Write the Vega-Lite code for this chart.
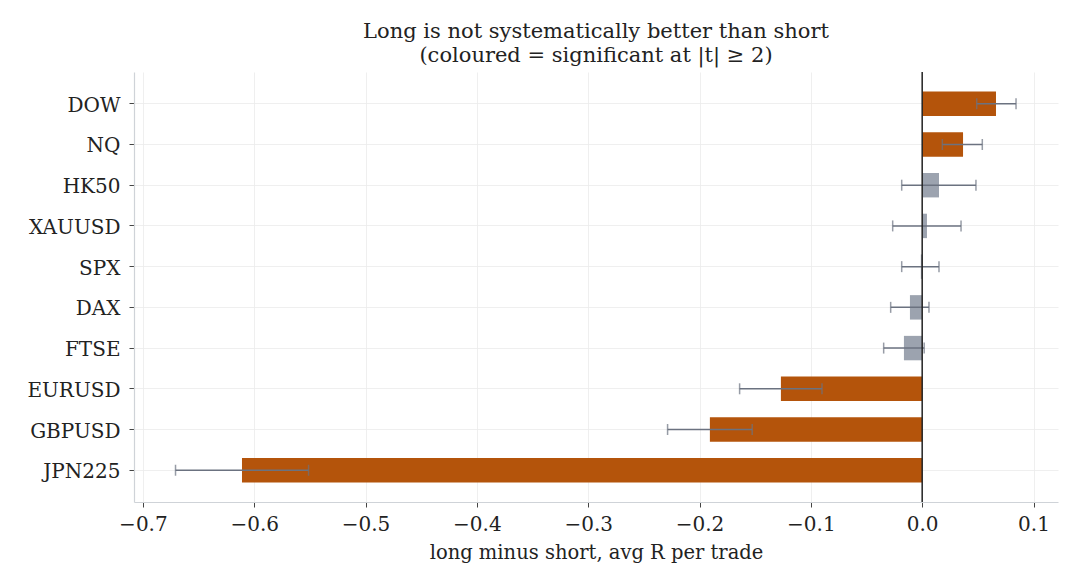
{
  "$schema": "https://vega.github.io/schema/vega-lite/v6.json",
  "width": 924,
  "height": 430,
  "autosize": "none",
  "padding": {"left": 134, "top": 72, "right": 22, "bottom": 83},
  "background": "white",
  "config": {
    "font": "DejaVu Serif",
    "view": {"stroke": null},
    "axis": {
      "labelFont": "DejaVu Serif",
      "titleFont": "DejaVu Serif",
      "labelColor": "#222222",
      "titleColor": "#222222",
      "labelFontSize": 20,
      "titleFontSize": 19.5,
      "titleFontWeight": "normal",
      "domainColor": "#cfd3d8",
      "domainWidth": 1.2,
      "tickColor": "#444444",
      "tickSize": 5,
      "tickWidth": 1,
      "gridColor": "#ebebeb",
      "gridWidth": 0.8
    }
  },
  "title": {
    "text": ["Long is not systematically better than short", "(coloured = significant at |t| ≥ 2)"],
    "font": "DejaVu Serif",
    "fontSize": 21,
    "fontWeight": "normal",
    "color": "#222222",
    "anchor": "middle",
    "offset": 5,
    "lineHeight": 24
  },
  "data": {
    "values": [
      {"sym": "DOW", "diff": 0.0663, "lo": 0.049, "hi": 0.0843, "sig": "yes"},
      {"sym": "NQ", "diff": 0.0367, "lo": 0.0181, "hi": 0.054, "sig": "yes"},
      {"sym": "HK50", "diff": 0.0151, "lo": -0.0184, "hi": 0.0483, "sig": "no"},
      {"sym": "XAUUSD", "diff": 0.0043, "lo": -0.0265, "hi": 0.0349, "sig": "no"},
      {"sym": "SPX", "diff": -0.0012, "lo": -0.0184, "hi": 0.0151, "sig": "no"},
      {"sym": "DAX", "diff": -0.011, "lo": -0.0283, "hi": 0.0061, "sig": "no"},
      {"sym": "FTSE", "diff": -0.0164, "lo": -0.0346, "hi": 0.0018, "sig": "no"},
      {"sym": "EURUSD", "diff": -0.1269, "lo": -0.164, "hi": -0.09, "sig": "yes"},
      {"sym": "GBPUSD", "diff": -0.1907, "lo": -0.2287, "hi": -0.1527, "sig": "yes"},
      {"sym": "JPN225", "diff": -0.611, "lo": -0.6707, "hi": -0.5512, "sig": "yes"}
    ]
  },
  "encoding": {
    "y": {
      "field": "sym",
      "type": "nominal",
      "sort": null,
      "scale": {"paddingInner": 0.4, "paddingOuter": 0.48},
      "axis": {"title": null, "bandPosition": 0.5, "grid": true, "labelPadding": 9, "labelOffset": 2}
    }
  },
  "layer": [
    {
      "mark": {"type": "bar"},
      "encoding": {
        "x": {
          "field": "diff",
          "type": "quantitative",
          "scale": {"domain": [-0.708, 0.122], "nice": false, "zero": false},
          "axis": {
            "title": "long minus short, avg R per trade",
            "values": [-0.7, -0.6, -0.5, -0.4, -0.3, -0.2, -0.1, 0, 0.1],
            "format": ".1f",
            "labelExpr": "replace(datum.label, '-', '−')",
            "grid": true,
            "labelPadding": 7,
            "titlePadding": 9
          }
        },
        "color": {
          "field": "sig",
          "type": "nominal",
          "scale": {"domain": ["yes", "no"], "range": ["#b4540b", "#9ca3af"]},
          "legend": null
        }
      }
    },
    {
      "mark": {"type": "rule", "color": "#6b7280", "strokeWidth": 1.5},
      "encoding": {
        "x": {"field": "lo", "type": "quantitative"},
        "x2": {"field": "hi"}
      }
    },
    {
      "mark": {"type": "tick", "color": "#6b7280", "thickness": 1.5, "size": 11, "orient": "vertical"},
      "encoding": {"x": {"field": "lo", "type": "quantitative"}}
    },
    {
      "mark": {"type": "tick", "color": "#6b7280", "thickness": 1.5, "size": 11, "orient": "vertical"},
      "encoding": {"x": {"field": "hi", "type": "quantitative"}}
    },
    {
      "data": {"values": [{"z": 0}]},
      "mark": {"type": "rule", "color": "#222222", "strokeWidth": 1.5},
      "encoding": {"x": {"field": "z", "type": "quantitative"}, "y": null}
    }
  ]
}
